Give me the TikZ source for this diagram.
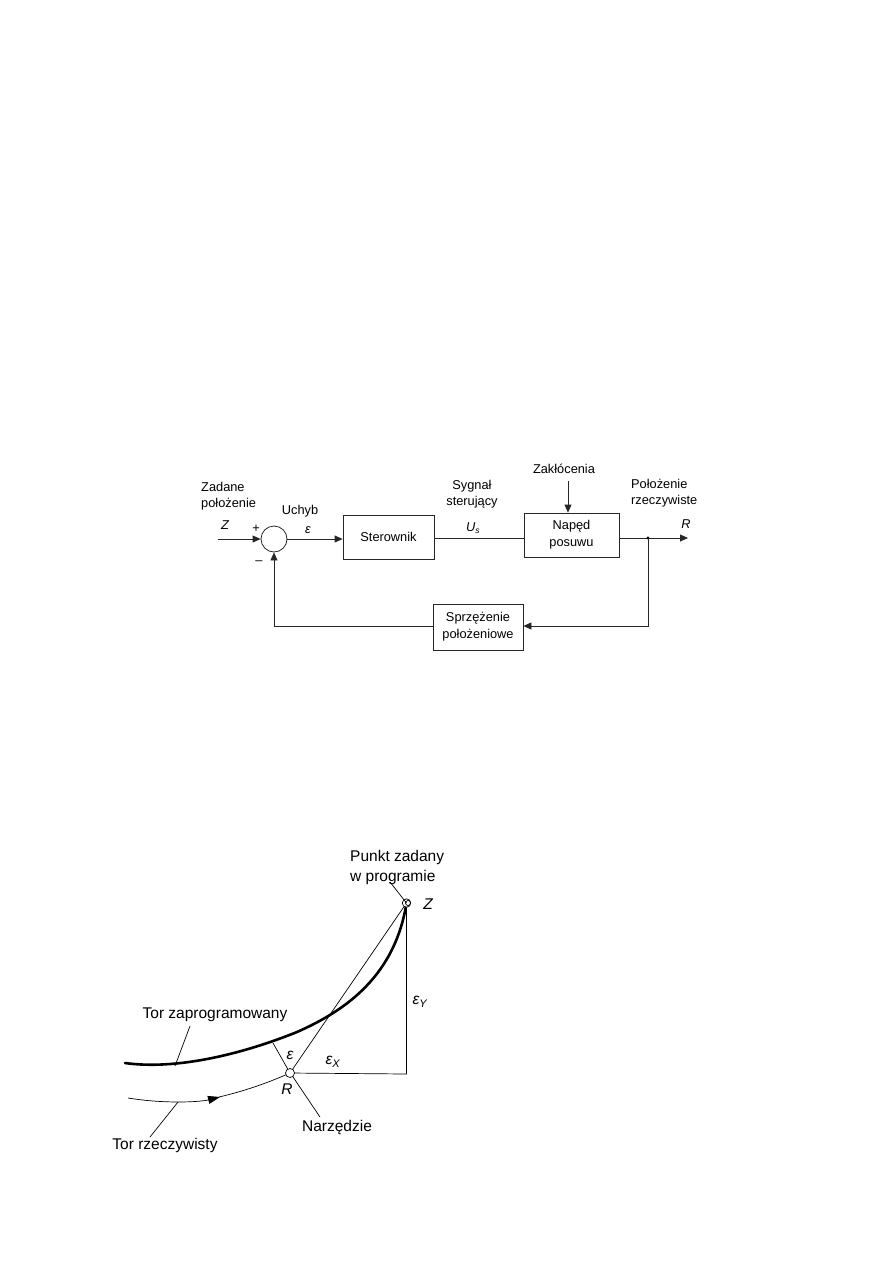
\documentclass[tikz,border=0pt]{standalone}
\usepackage{fontspec}
\setmainfont{Liberation Sans}
\usetikzlibrary{arrows.meta}
\begin{document}
\begin{tikzpicture}[x=1pt,y=-1pt,
  blk/.style={draw=black!85,line width=0.8pt,minimum width=#1,minimum height=44pt,inner sep=0pt,font=\fontsize{12.8}{17}\selectfont,align=center},
  ln/.style={draw=black!85,line width=0.8pt},
  tip/.style={-{Triangle[length=8pt,width=7pt]}},
  lbl/.style={font=\fontsize{12.8}{16.5}\selectfont,inner sep=0pt},
  big/.style={font=\fontsize{15.5}{20}\selectfont,inner sep=0pt},
  thin/.style={draw=black,line width=0.7pt}]
\useasboundingbox (0,0) rectangle (893,1263);
% ---------- block diagram ----------
\node[draw=black!85,line width=0.8pt,circle,minimum size=26pt,inner sep=0pt] (sum) at (274,539) {};
\node[blk=91pt] (ster) at (388.5,537) {Sterownik};
\node[blk=95pt] (nap) at (571.5,535) {Napęd\\posuwu};
\node[blk=90pt,minimum height=46pt] (sprz) at (478,627) {Sprzężenie\\położeniowe};
\coordinate (zin) at (218,539);
\coordinate (zak) at (568,481);
\coordinate (rout) at (688,538);
\coordinate (dot) at (648,538);
\coordinate (fbr) at (648,626);
\coordinate (fbl) at (274,626);
\draw[ln,tip] (zin) -- (sum.west);
\draw[ln,tip] (sum.east) -- (ster.west |- sum.east);
\draw[ln] (ster.east |- 0,538) -- (nap.west |- 0,538);
\draw[ln,tip] (zak) -- (nap.north -| zak);
\draw[ln,tip] (nap.east |- 0,538) -- (rout);
\fill (dot) circle (1.6pt);
\draw[ln,tip] (dot) -- (fbr) -- (sprz.east |- fbr);
\draw[ln,tip] (sprz.west |- fbr) -- (fbl) -- (sum.south);
\node[lbl,align=left,anchor=west] (zad) at (201,496) {Zadane\\położenie};
\node[lbl] (zl) at (225,525) {\itshape Z};
\node[lbl] (plus) at (256,529) {+};
\node[lbl] (minus) at (259,563) {–};
\node[lbl] (uch) at (300,511) {Uchyb};
\node[lbl] (eps) at (308,530) {\itshape ε};
\node[lbl,align=center] (syg) at (472,494) {Sygnał\\sterujący};
\node[lbl] (us) at (473,528) {\itshape U\textsubscript{\fontsize{8.5}{8.5}\selectfont s}};
\node[lbl] (zakl) at (564,469) {Zakłócenia};
\node[lbl,align=left,anchor=west] (pol) at (631,493) {Położenie\\rzeczywiste};
\node[lbl] (rl) at (686,524) {\itshape R};
% ---------- path diagram ----------
\coordinate (Z) at (406.5,903);
\coordinate (R) at (290,1073);
\coordinate (C) at (406.5,1074);
\coordinate (P) at (273,1043);
\draw[thin] (R) -- (Z);
\draw[thin] (Z) -- (C) -- (R);
\draw[thin] (R) -- (P);
\draw[line width=2.6pt,line cap=round] (125,1063) .. controls (175,1070) and (240,1055) .. (297,1032) .. controls (347,1010) and (395,975) .. (Z);
\draw[thin,-{Triangle[length=12pt,width=8pt]}] (128,1098) .. controls (165,1104) and (200,1102) .. (220,1097);
\draw[thin] (219,1097) .. controls (245,1091) and (270,1082) .. (R);
\draw[thin,fill=white] (Z) circle (4.2pt);
\draw[thin] (408,903) circle (2.5pt);
\draw[thin,fill=white] (R) circle (4.5pt);
\node[big,align=left,anchor=west] (pz) at (350,867) {Punkt zadany\\w programie};
\draw[thin] (390,882) -- (Z);
\node[big] (zl2) at (428,904) {\itshape Z};
\node[big] (rl2) at (287,1089) {\itshape R};
\node[big] (e2) at (290,1055) {\itshape ε};
\node[big] (ex) at (333,1062) {\itshape ε\textsubscript{\fontsize{11}{11}\selectfont X}};
\node[big] (ey) at (420,1002) {\itshape ε\textsubscript{\fontsize{11}{11}\selectfont Y}};
\node[big] (tz) at (215,1015) {Tor zaprogramowany};
\draw[thin] (190,1026) -- (175,1066);
\node[big] (tr) at (165,1145) {Tor rzeczywisty};
\draw[thin] (150,1137) -- (178,1102);
\node[big] (nz) at (337,1127) {Narzędzie};
\draw[thin] (293,1077) -- (320,1117);
\end{tikzpicture}
\end{document}
